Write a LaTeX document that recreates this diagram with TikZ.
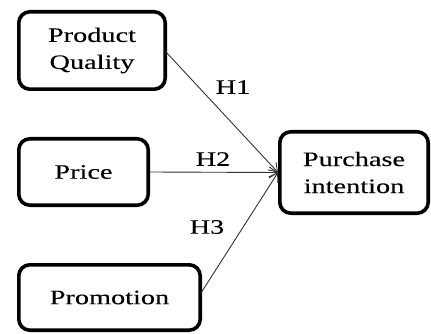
\documentclass[tikz,border=0pt]{standalone}
\usepackage{fontspec}
\setmainfont{Liberation Serif}[FakeBold=0.1]
\usepackage{graphicx}
\newcommand\wtxt[1]{\scalebox{1.38}[1]{#1}}
\usetikzlibrary{arrows.meta}
\begin{document}
\begin{tikzpicture}[x=1pt,y=-1pt,
  box/.style={draw=black, line width=3.6pt, rounded corners=11pt, align=center,
    font=\fontsize{20.5}{27}\selectfont, inner sep=0pt},
  lbl/.style={font=\fontsize{20.5}{27}\selectfont, inner sep=0pt},
  conn/.style={draw=black!80, line width=0.9pt, -{Straight Barb[length=8pt,width=11pt]}}]
\useasboundingbox (0,0) rectangle (431,334);
\node[box, minimum width=146.4pt, minimum height=77.4pt] (pq) at (92,50.5) {\wtxt{Product}\\\wtxt{Quality}};
\node[box, minimum width=129.4pt, minimum height=66.4pt] (pr) at (83.5,172) {\wtxt{Price}};
\node[box, minimum width=181.4pt, minimum height=65.4pt] (pm) at (109.5,297.5) {\wtxt{Promotion}};
\node[box, minimum width=148.4pt, minimum height=81.4pt] (pi) at (354,172.5) {\wtxt{Purchase}\\\wtxt{intention}};
\node[lbl] (h1) at (233,87) {\wtxt{H1}};
\node[lbl] (h2) at (213,159) {\wtxt{H2}};
\node[lbl] (h3) at (207,227) {\wtxt{H3}};
\coordinate (s1) at (166,52);
\coordinate (s3) at (201,293);
\draw[conn] (s1) -- (pi.west);
\draw[conn] (pr.east) -- (pi.west);
\draw[conn] (s3) -- (pi.west);
\end{tikzpicture}
\end{document}
